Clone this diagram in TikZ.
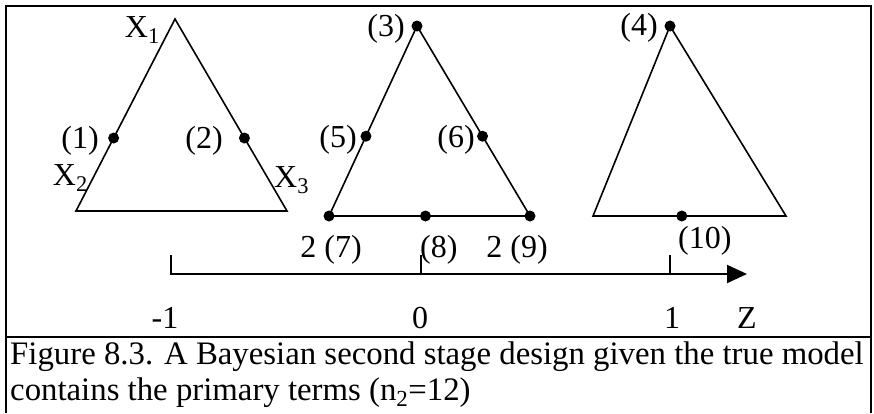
\documentclass[tikz,border=0pt]{standalone}
\usepackage{fontspec}
\setmainfont{Liberation Serif}
\usepackage{tikz}
\usetikzlibrary{calc, arrows.meta}

\begin{document}
\begin{tikzpicture}[x=1pt,y=-1pt,
    tri/.style={line width=1.6pt,line join=miter},
    pt/.style={circle,fill,inner sep=0pt,minimum size=11pt},
    lbl/.style={inner sep=0pt,font=\fontsize{32}{37}\selectfont},
    frame/.style={line width=2.8pt}]
    \useasboundingbox (0,0) rectangle (874,413);

    % frame and caption rule
    \draw[frame] (6,413) -- (6,6) -- (871,6) -- (871,413);
    \draw[frame] (6,337) -- (871,337);

    % first simplex
    \coordinate (a1) at (175,19);
    \coordinate (b1) at (76,211);
    \coordinate (c1) at (287,211);
    \draw[tri] (a1) -- (b1) -- (c1) -- cycle;
    \node[pt] (d1) at ($(a1)!0.62!(b1)$) {};
    \node[pt] (d2) at ($(a1)!0.62!(c1)$) {};
    \node[lbl,anchor=base east] (x1) at (160,37) {X\textsubscript{1}};
    \node[lbl,anchor=base east] (x2) at (88,185) {X\textsubscript{2}};
    \node[lbl,anchor=base west] (x3) at (274,187) {X\textsubscript{3}};
    \node[lbl,anchor=base east] (l1) at (99,148) {(1)};
    \node[lbl,anchor=base east] (l2) at (223,148) {(2)};

    % second simplex
    \coordinate (a2) at (417,26);
    \coordinate (b2) at (329,216);
    \coordinate (c2) at (530,216);
    \draw[tri] (a2) -- (b2) -- (c2) -- cycle;
    \node[pt] (d3) at (a2) {};
    \node[pt] (d5) at ($(a2)!0.58!(b2)$) {};
    \node[pt] (d6) at ($(a2)!0.58!(c2)$) {};
    \node[pt] (d7) at (b2) {};
    \node[pt] (d8) at ($(b2)!0.48!(c2)$) {};
    \node[pt] (d9) at (c2) {};
    \node[lbl,anchor=base east] (l3) at (405,36) {(3)};
    \node[lbl,anchor=base east] (l5) at (357,147) {(5)};
    \node[lbl,anchor=base east] (l6) at (475,147) {(6)};
    \node[lbl,anchor=base east] (l7) at (362,257) {2 (7)};
    \node[lbl,anchor=base west] (l8) at (420,257) {(8)};
    \node[lbl,anchor=base east] (l9) at (548,257) {2 (9)};

    % third simplex
    \coordinate (a3) at (670,26);
    \coordinate (b3) at (593,216);
    \coordinate (c3) at (786,216);
    \draw[tri] (a3) -- (b3) -- (c3) -- cycle;
    \node[pt] (d4) at (a3) {};
    \node[pt] (d10) at ($(b3)!0.46!(c3)$) {};
    \node[lbl,anchor=base east] (l4) at (658,35) {(4)};
    \node[lbl,anchor=base west] (l10) at (678,248) {(10)};

    % z axis
    \coordinate (zm) at (171,274);
    \coordinate (z0) at (421,274);
    \coordinate (zp) at (670,274);
    \coordinate (zend) at (747,274);
    \draw[line width=2pt,-{Triangle[length=20pt,width=18pt]}]
        ($(zm)+(0,-19)$) -- (zm) -- (zend);
    \draw[line width=1.4pt] (z0) -- ++(0,-19);
    \draw[line width=1.4pt] (zp) -- ++(0,-19);
    \node[lbl,anchor=base] (tm) at (165,328) {-1};
    \node[lbl,anchor=base] (t0) at (420,328) {0};
    \node[lbl,anchor=base] (tp) at (672,328) {1};
    \node[lbl,anchor=base] (tz) at (747,328) {Z};

    % caption
    \node[lbl,anchor=base west,font=\fontsize{32.8}{37}\selectfont] (cap1) at (10,364)
        {Figure 8.3. A Bayesian second stage design given the true model};
    \node[lbl,anchor=base west,font=\fontsize{32.8}{37}\selectfont] (cap2) at (10,400)
        {contains the primary terms (n\textsubscript{2}=12)};
\end{tikzpicture}
\end{document}
